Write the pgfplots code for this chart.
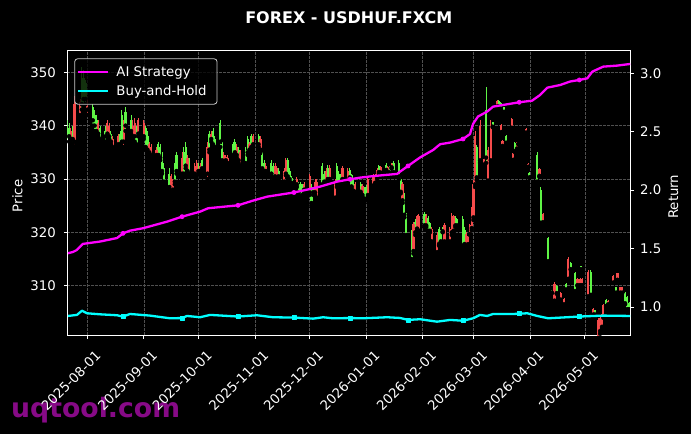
\documentclass[border=0pt]{standalone}
\usepackage{pgfplots}
\pgfplotsset{compat=1.18}
\usepackage{pgfplotstable}
\usepackage{fontspec}
\setmainfont{DejaVu Sans}
\definecolor{cgreen}{RGB}{95,245,70}
\definecolor{cred}{RGB}{245,75,75}
\definecolor{gridc}{RGB}{80,80,80}
\definecolor{wm}{RGB}{135,10,135}
\definecolor{legframe}{RGB}{200,200,200}
\definecolor{aimag}{RGB}{255,0,255}
\definecolor{bhcyan}{RGB}{0,255,255}
\newcommand\tfont{\fontsize{13.3}{16}\selectfont}

\pgfplotstableread{
x l h bl bh
-11 337.5 341 338 340
-10 337 340.5 338 339.5
-8 336.5 340 337.5 339
-3 343 351 344 349
-2 343.5 350.5 345 349
-1 344 348.5 345 348
3 340 344 341 343.5
4 339 343 340 342
5 338.5 342 339 341
7 337 340 337.5 339.5
10 337 340 338 339
13 336.5 339 337 338.5
18 336 339 336.5 338.5
19 336 343 337 342
21 339 343.5 340 342.5
24 338.5 342 339 341
27 336 340 336.5 339
32 335.5 340 336 339.5
33 335 339 335.5 338
39 334 337 334.5 336.5
40 333.5 336.5 334 336
41 331 335 331.5 334
42 329 333 329.5 332
45 328 332 328.5 331
48 329 333 329.5 332.5
49 331 335 331.5 334.5
53 330.5 336 331 335
54 332 337 332.5 336
56 330.5 334 331 333.5
61 331 333 331.5 332.5
63 331.5 334 332 333.5
67 335 339 335.5 338.5
69 336 339.5 336.5 339
70 335.5 338 336 337.5
73 336 341 337 340.5
74 333 337 333.5 336.5
80 334 337 334.5 336.5
81 334.5 337.5 335 337
83 333 336 333.5 335.5
87 332.5 336 333 335.5
88 334.5 338 335 337.5
90 335.5 338.5 336 338
94 336 338.5 336.5 338
96 331.6 335 332 334.5
97 331 333.5 331.5 333
101 330.5 333.5 331 333
102 329.5 333 330 332.5
105 330 332 330.5 331.5
110 330 334 330.5 333.5
111 329.5 332 330 331.5
112 329 330.5 329.3 330.2
116 327 329.5 327.5 329
117 326 329.4 326.5 329
118 326.5 329 327 328.5
123 325 329 325.5 328.5
124 327 328.5 327.5 328
129 328.5 333 329 332.5
130 329 331.5 329.5 331
132 329.5 332.6 330 332
137 328.5 333 329 332.5
138 329 331.5 329.3 331
139 329 331 329.3 330.7
144 330 332 330.3 331.7
145 328.3 331 328.6 330.7
146 327.5 330 327.8 329.5
150 327.3 329.5 327.6 329
152 326 328.5 326.3 328
153 326 328.9 326.3 328.5
160 331 332.6 331.3 332.4
164 331.4 333 331.7 332.7
166 331 332.5 331.2 332.3
168 331 333.3 331.3 333
171 330 333.5 330.5 333
172 327.3 330.4 327.6 330
174 322.8 327.3 323.3 326.8
175 319 323.6 319.5 323
178 314.4 320.4 315 319.5
180 319.5 322.5 320 322
185 321 323.8 321.3 323.5
187 320 323 320.3 322.7
188 320 322 320.3 321.7
193 317.5 321 317.8 320.7
194 318 320.5 318.3 320.2
195 320 321 320.2 320.8
202 321 323 321.3 322.7
203 321 322.5 321.3 322.2
206 317 323 317.5 322.5
207 317.5 321 317.8 320.5
213.7 329.8 336.4 330.3 336
218.8 333 347.3 334 343
222.5 339.7 340.7 339.8 340.6
225.6 343.5 344.8 343.6 344.6
226.9 343 344.5 343.2 344.3
228.7 342.5 343.5 342.6 343.4
229.8 336.7 338.2 336.8 338
234.7 335 337 335.2 336.8
236.6 336.5 337 336.6 336.9
242.6 330.2 331.3 330.3 331.2
246.8 329.2 335 329.5 334.5
248.8 321.4 328.5 321.8 328
252.9 314.4 319.1 314.6 318.9
254.9 308.6 309.2 308.7 309.1
257.6 308.5 310.2 308.6 310
262.7 309.2 310.5 309.3 310.4
265.3 313 314.4 313.1 314.3
267.7 308.8 312.6 309 312.4
270.8 313 313.7 313.1 313.6
276.4 308 313 308.3 312.5
278.6 304.5 305.5 304.6 305.4
284.7 306 307.5 306.2 307.3
290.2 308.6 309.8 308.7 309.7
295.1 306.5 308.8 306.7 308.6
296.2 305.4 308 305.6 307.8
297.3 305.4 307 305.6 306.8
}\greenc

\pgfplotstableread{
x l h bl bh
-9 337 339.5 337.5 339
-7 336 345.5 337 344
-4 341.5 345 342 344.5
0 342 345 343 344.5
6 338 341 338.5 340.5
11 338 341 338.5 340.5
12 337.5 340.5 338 340
14 335.5 338 336 337.5
17 336 338.5 336.5 338
20 336 341 337 340
25 337.5 341 338 340
26 337 341.5 338 340.5
28 338 341.5 338.5 341
31 337.5 341 338 340.5
34 334.5 337 335 336.5
35 334 336.5 334.5 336
38 334 336 334.5 335.5
46 327 331 327.5 330.5
47 327.5 330 328 329.5
52 330 335 331 334
55 331 334.5 331.5 334
59 330.5 333 331 332.5
60 330 333.5 330.5 333
62 331 333 331.5 332.5
66 330 337 331 336
68 337 339 337.5 338.5
75 332.6 335 333 334.5
76 333 334.5 333.5 334.2
77 332.5 334.5 333 334
82 334 336.5 334.5 336
84 332 335.5 332.5 335
89 335 337 335.5 336.5
91 336 338.5 336.5 338
95 335 338 335.5 337.5
98 331 333 331.5 332.5
103 330 333 330.5 332.5
104 329.5 332.5 330 332
108 329 332 329.5 331.5
109 330.7 334 331 333.5
115 328.5 330.4 329 330
119 327.5 329.5 328 329
122 327 331 327.5 330.5
125 327 330 327.5 329.5
126 326 330 326.5 329.5
131 329 332 329.5 331.5
133 329.8 332.6 330 332
136 326 330 326.5 329.5
140 329.8 332.5 330 332
143 329 332 329.3 331.5
147 327.3 329.4 327.6 329
151 326.6 329 327 328.7
154 326.6 330.4 327 330
157 328.5 331 328.8 330.7
158 329 331 329.3 330.8
159 330 332 330.3 331.7
161 331 332.5 331.2 332.2
165 331 332.5 331.3 332.3
167 332 333 332.2 332.8
173 325.5 329.5 326 329
179 316 322 316.5 321.5
181 320.4 323.3 320.7 323
182 320 323.5 320.3 323
186 321 323.5 321.3 323
189 318 321 318.3 320.7
192 316 320 316.3 319.5
196 318 321.7 318.3 321.3
199 318 321 318.3 320.7
200 319.5 323.6 320 323
201 320 323.3 320.3 323
208 317 320 317.3 319.7
209 317.5 319.5 317.8 319.3
210 319.5 321.5 319.7 321.3
211.0 320.4 324.7 320.8 324.3
211.9 322.3 329.8 322.8 329
212.8 328.5 339 329 338
215.5 333 341 333.5 340
217.7 332.5 334 332.7 333.8
219.9 329.2 336 329.7 335.5
221.4 333 341 333.5 340
225.0 343.5 344.8 343.6 344.6
227.2 338.6 340.4 338.8 340.2
227.8 336 337.3 336.2 337.1
232.9 339.5 341.4 339.6 341.2
233.8 333.5 335 333.6 334.8
235.8 335.5 337 335.7 336.8
239.8 338.2 338.8 338.3 338.7
240.8 338.6 339.5 338.7 339.4
242.0 332.2 333 332.3 332.9
248.1 330.4 332 330.6 331.8
250.1 321.7 323.6 321.9 323.4
256.4 306.9 310.7 307.2 310.4
259.8 307.3 308.8 307.4 308.7
261.6 306.4 307.7 306.5 307.6
264.0 311 315.4 311.3 315
269.0 310 311.4 310.1 311.3
270.4 310 311.4 310.1 311.3
271.5 310 311.4 310.1 311.3
274.8 307.8 313 308 312.5
277.7 304.5 305.8 304.6 305.7
280.3 300 304 300.5 303.5
281.4 301 304.5 301.5 304
282.5 302 305 302.3 304.7
283.2 304 306.5 304.2 306.3
285.8 306.4 307.3 306.5 307.2
288.7 310.5 312 310.6 311.9
290.9 311 312.4 311.1 312.3
292.4 308.6 309.8 308.7 309.7
293.5 308.6 309.8 308.7 309.7
}\redc

\pgfplotstableread{
x r
-10.6 1.46
-8 1.47
-5.7 1.488
-2.4 1.54
7 1.56
16.3 1.59
19.6 1.63
23.4 1.653
30.6 1.674
43.7 1.73
52 1.773
61.9 1.816
66.3 1.845
82.7 1.87
90.9 1.91
98.6 1.944
113.4 1.98
122.3 2.01
127.7 2.03
137.1 2.073
144.2 2.093
149.7 2.107
156.8 2.12
170 2.139
171.6 2.158
176 2.207
182.6 2.28
189.8 2.344
193.6 2.393
199.1 2.407
206.2 2.438
210 2.48
211.7 2.567
214.4 2.63
219.4 2.672
222.7 2.715
228.2 2.729
237 2.752
244.1 2.766
248.5 2.815
252.4 2.877
259.5 2.9
265 2.93
270 2.943
274.4 2.957
277.1 3.014
283.1 3.057
290.8 3.066
297.9 3.08
}\aistrat

\pgfplotstableread{
x r
-10.6 0.923
-5.7 0.932
-2.9 0.968
-0.2 0.946
7.0 0.937
16.3 0.929
19.6 0.917
23.4 0.94
34.4 0.926
45.4 0.903
52 0.905
54.7 0.923
61.9 0.912
67.4 0.932
82.7 0.918
93.1 0.929
101.9 0.912
113.4 0.909
123.9 0.9
129.4 0.912
134.9 0.903
144.2 0.905
151.3 0.903
164.5 0.912
171.6 0.906
176 0.889
182.6 0.895
191.9 0.874
199.1 0.889
206.2 0.882
211.7 0.903
215.5 0.932
219.4 0.923
222.7 0.94
233.7 0.94
237 0.942
241.4 0.946
246.9 0.923
252.9 0.903
263.3 0.912
270 0.918
283.1 0.926
297.9 0.923
}\buyhold

\begin{document}
\begin{tikzpicture}
\useasboundingbox (0,0) rectangle (691pt,434pt);
\fill[black] (0,0) rectangle (691pt,434pt);
\node[anchor=base west, inner sep=0pt, text=wm, font=\bfseries\fontsize{26.7}{30}\selectfont] at (11pt,16.5pt) {uqtool.com};

\begin{axis}[
  at={(67.3pt,99pt)}, anchor=south west,
  scale only axis, width=563.4pt, height=284pt,
  xmin=-10.98, xmax=298.2, ymin=300.76, ymax=353.99,
  axis line style={white, line width=1pt},
  tick align=outside, major tick length=3.5pt,
  tick style={white, line width=0.8pt},
  xtick pos=left, ytick pos=left,
  xtick={0,31,61,92,122,153,184,212,243,273},
  xticklabels={2025-08-01,2025-09-01,2025-10-01,2025-11-01,2025-12-01,2026-01-01,2026-02-01,2026-03-01,2026-04-01,2026-05-01},
  ytick={310,320,330,340,350},
  grid=major,
  major grid style={gridc, line width=0.5pt, dash pattern=on 2.5pt off 1.5pt},
  ticklabel style={text=white, font=\tfont},
  xticklabel style={rotate=45, anchor=north east, inner sep=0pt, xshift=-2.5pt, yshift=-13pt},
  yticklabel style={inner sep=0pt, anchor=east, xshift=-7.8pt},
  /pgf/number format/assume math mode=true,
]
\addplot[only marks, mark=none, forget plot, error bars/.cd, y dir=plus, y explicit, error mark=none, error bar style={draw=cgreen, line width=1pt}] table[x=x, y=l, y error plus expr={\thisrow{h}-\thisrow{l}}] {\greenc};
\addplot[only marks, mark=none, forget plot, error bars/.cd, y dir=plus, y explicit, error mark=none, error bar style={draw=cgreen, line width=2.2pt}] table[x=x, y=bl, y error plus expr={\thisrow{bh}-\thisrow{bl}}] {\greenc};
\addplot[only marks, mark=none, forget plot, error bars/.cd, y dir=plus, y explicit, error mark=none, error bar style={draw=cred, line width=1pt}] table[x=x, y=l, y error plus expr={\thisrow{h}-\thisrow{l}}] {\redc};
\addplot[only marks, mark=none, forget plot, error bars/.cd, y dir=plus, y explicit, error mark=none, error bar style={draw=cred, line width=2.2pt}] table[x=x, y=bl, y error plus expr={\thisrow{bh}-\thisrow{bl}}] {\redc};
\end{axis}

\begin{axis}[
  at={(67.3pt,99pt)}, anchor=south west,
  scale only axis, width=563.4pt, height=284pt,
  xmin=-10.98, xmax=298.2, ymin=0.760, ymax=3.191,
  axis x line=none, axis y line*=right,
  axis line style={white, line width=1pt},
  tick align=outside, major tick length=3.5pt,
  tick style={white, line width=0.8pt},
  ytick={1,1.5,2,2.5,3},
  yticklabel style={text=white, font=\tfont, inner sep=0pt, anchor=west, xshift=5.8pt,
    /pgf/number format/fixed, /pgf/number format/fixed zerofill, /pgf/number format/precision=1},
  /pgf/number format/assume math mode=true,
  legend style={at={(0.0124,0.974)}, anchor=north west, fill=black, fill opacity=0.8, text opacity=1,
    draw=legframe, draw opacity=1, rounded corners=3pt, line width=0.8pt, text=white, font=\tfont,
    inner xsep=2pt, inner ysep=4pt, row sep=0pt, column sep=5pt,
    nodes={inner xsep=2.5pt, inner ysep=3.6pt}},
  legend cell align=left,
  legend image code/.code={\draw[mark repeat=2, mark phase=2, #1] plot coordinates {(0pt,0pt) (15pt,0pt) (30pt,0pt)};},
]
\addplot[aimag, line width=2.3pt, line join=round, mark=*, mark size=2pt, mark options={solid, fill=aimag, line width=0.8pt}, mark indices={7,11,14,17,21,26,31,38,44}] table[x=x, y=r] {\aistrat};
\addlegendentry{AI Strategy}
\addplot[bhcyan, line width=2.3pt, line join=round, mark=square*, mark size=2pt, mark options={solid, fill=bhcyan, line width=0.8pt}, mark indices={7,11,15,18,22,26,30,36,41}] table[x=x, y=r] {\buyhold};
\addlegendentry{Buy-and-Hold\hspace*{6pt}}
\end{axis}

\node[rotate=90, text=white, font=\tfont] at (17.5pt,238.2pt) {Price};
\node[rotate=90, text=white, font=\tfont] at (673.3pt,237.3pt) {Return};
\node[anchor=base, text=white, font=\bfseries\fontsize{16}{19}\selectfont] at (348.8pt,410pt) {FOREX - USDHUF.FXCM};
\end{tikzpicture}
\end{document}
